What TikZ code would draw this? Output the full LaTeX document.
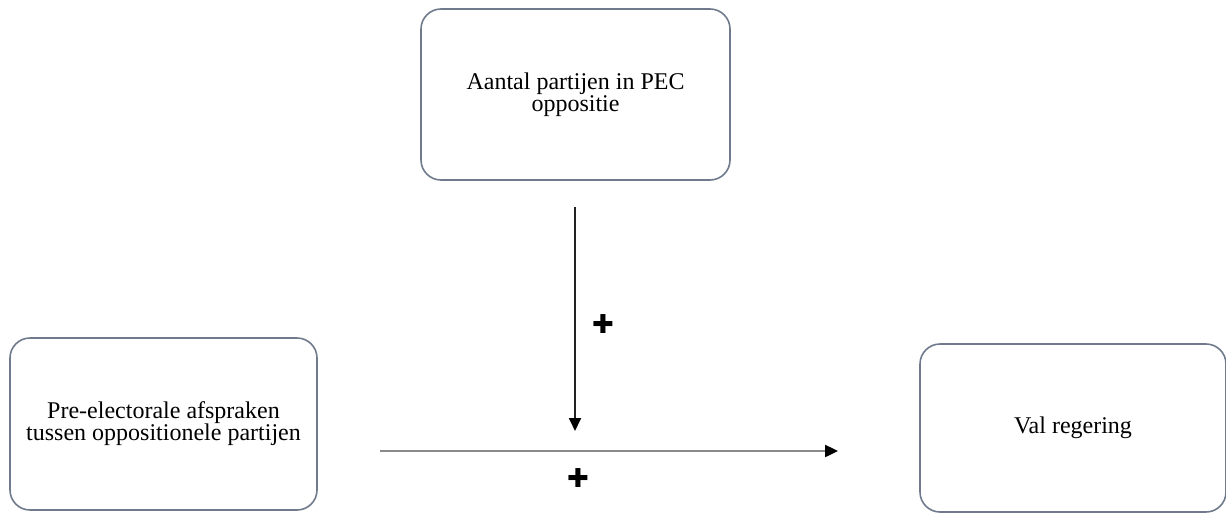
\documentclass[tikz,border=0pt]{standalone}
\usepackage{fontspec}
\setmainfont{Liberation Serif}
\newfontfamily\symfont{DejaVu Sans}
\usetikzlibrary{arrows.meta}
\definecolor{boxline}{HTML}{6F7B8C}
\definecolor{hline}{HTML}{8A8A8A}
\definecolor{vline}{HTML}{222222}
\tikzset{
  box/.style={draw=boxline, line width=1.6pt, rounded corners=20pt, align=center, inner sep=0pt, font=\fontsize{24}{22}\selectfont},
  conn/.style={line width=1.8pt, -{Triangle[length=13pt,width=12pt,color=black]}},
  sign/.style={font=\symfont\fontsize{26}{26}\selectfont, inner sep=0pt}
}
\begin{document}
\begin{tikzpicture}[x=1pt,y=-1pt]
\useasboundingbox (0,0) rectangle (1226,514);
\node[box, minimum width=309pt, minimum height=171pt] (pec) at (575.5,94.5) {Aantal partijen in PEC\\oppositie};
\node[box, minimum width=307pt, minimum height=172pt] (pre) at (163.5,424) {Pre-electorale afspraken\\tussen oppositionele partijen};
\node[box, minimum width=306pt, minimum height=168pt] (val) at (1073,428) {Val regering};
\coordinate (vs) at (575,207);
\coordinate (ve) at (575,431);
\coordinate (hs) at (380,451);
\coordinate (he) at (838,451);
\draw[conn, draw=vline] (vs) -- (ve);
\draw[conn, line width=2.4pt, draw=hline] (hs) -- (he);
\node[sign] (p1) at (603,324) {✚};
\node[sign] (p2) at (578,478) {✚};
\end{tikzpicture}
\end{document}
